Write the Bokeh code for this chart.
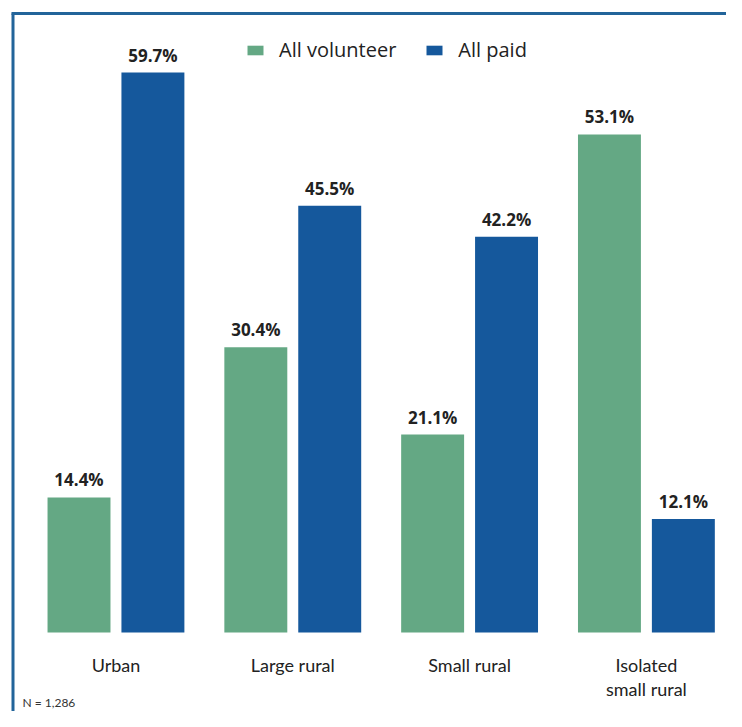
from bokeh.plotting import figure
from bokeh.models import Range1d, ColumnDataSource, Legend, LegendItem, Label
from bokeh.core.properties import value
from bokeh.embed import file_html
from bokeh.resources import INLINE

categories = ["Urban", "Large rural", "Small rural", "Isolated\nsmall rural"]
volunteer = [14.4, 30.4, 21.1, 53.1]
paid = [59.7, 45.5, 42.2, 12.1]
series_names = ["All volunteer", "All paid"]
note = "N = 1,286"

GREEN = "#64a884"
BLUE = "#15589c"
FRAME = "#22649a"
FONT = "Lato"
FONT2 = "Open Sans"

W, H = 726, 711
X0, X1 = -0.653, 3.453
Y0, Y1 = -8.42, 67.38
p = figure(width=W, height=H, output_backend="svg", toolbar_location=None,
           x_range=Range1d(X0, X1), y_range=Range1d(Y0, Y1),
           min_border=0, background_fill_color="white", border_fill_color="white")
p.axis.visible = False
p.grid.visible = False
p.outline_line_color = None

# decorative frame (top and left edges)
px = (X1 - X0) / W
py = (Y1 - Y0) / H
fl = X0 + 12.5 * px
ft = Y1 - 13 * py
p.segment(x0=[fl - 1.5 * px, fl], y0=[ft, ft], x1=[X1 + 1, fl], y1=[ft, Y0 - 5],
          line_color=FRAME, line_width=3)

idx = list(range(len(categories)))
off = 0.209
bw = 0.356
src_v = ColumnDataSource(dict(x=[i - off for i in idx], top=volunteer,
                              lab=[f"{v:.1f}%" for v in volunteer]))
src_p = ColumnDataSource(dict(x=[i + off for i in idx], top=paid,
                              lab=[f"{v:.1f}%" for v in paid]))

rv = p.vbar(x="x", top="top", bottom=0, width=bw, source=src_v, fill_color=GREEN, line_color=None)
rp = p.vbar(x="x", top="top", bottom=0, width=bw, source=src_p, fill_color=BLUE, line_color=None)

for s in (src_v, src_p):
    p.text(x="x", y="top", text="lab", source=s, text_align="center", text_baseline="bottom",
           y_offset=-6, text_font=value(FONT2), text_font_style="bold",
           text_font_size="17px", text_color="#222222")

src_c = ColumnDataSource(dict(x=idx, y=[0] * len(idx), lab=categories))
p.text(x="x", y="y", text="lab", source=src_c, text_align="center", text_baseline="top",
       y_offset=21, text_font=value(FONT), text_font_size="18px", text_color="#222222",
       text_line_height=1.1)

legend = Legend(items=[LegendItem(label=series_names[0], renderers=[rv]),
                       LegendItem(label=series_names[1], renderers=[rp])],
                orientation="horizontal", location=(245, 648),
                glyph_width=20, glyph_height=12, label_standoff=14, spacing=28,
                padding=0, margin=0, border_line_color=None, background_fill_alpha=0,
                label_text_font=FONT2, label_text_font_size="20px", label_text_color="#222222")
p.add_layout(legend, "center")

p.add_layout(Label(x=22, y=2, x_units="screen", y_units="screen", text=note,
                   text_font=FONT, text_font_size="12px", text_color="#333333"))

open("out.html", "w").write(file_html(p, INLINE))
